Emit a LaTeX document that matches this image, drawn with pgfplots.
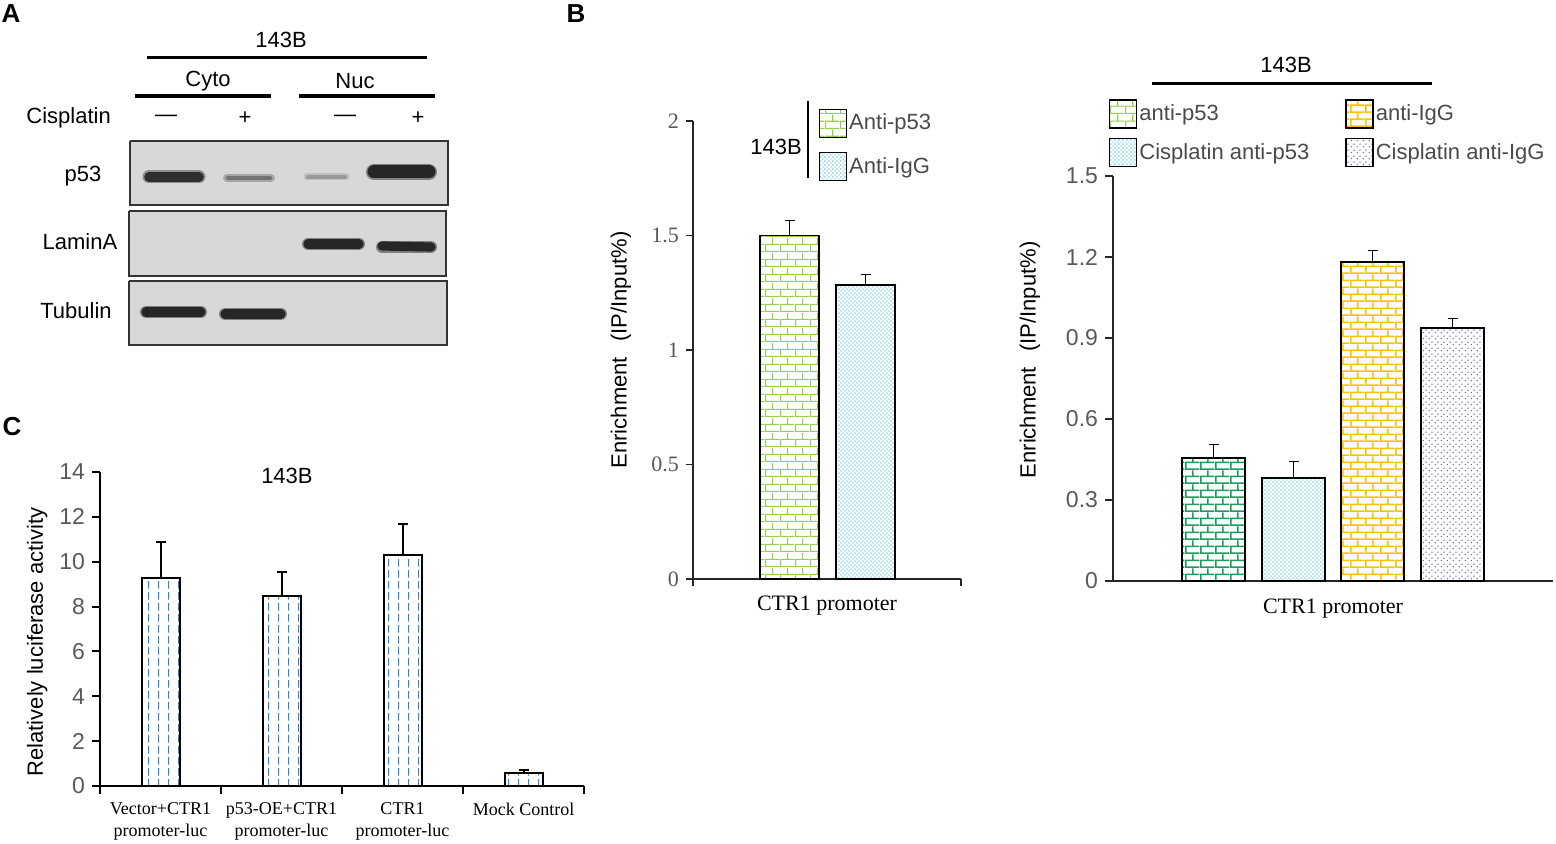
\documentclass[border=0pt]{standalone}
\usepackage{fontspec}
\setmainfont{Liberation Sans}
\newfontfamily\serif{Liberation Serif}
\usepackage{pgfplots}
\pgfplotsset{compat=1.18}
\usetikzlibrary{patterns}

\definecolor{tickgray}{HTML}{595959}
\definecolor{leggray}{HTML}{4A4A4A}
\definecolor{lgreen}{HTML}{92D050}
\definecolor{dgreen}{HTML}{16A05A}
\definecolor{cyanp}{HTML}{1FB0D8}
\definecolor{yel}{HTML}{FFC000}
\definecolor{purp}{HTML}{7050A8}
\definecolor{blued}{HTML}{2E86CF}
\definecolor{blot}{HTML}{D8D8D8}

\pgfdeclarepatternformonly{brk}{\pgfpointorigin}{\pgfpoint{7.5pt}{7.3pt}}{\pgfpoint{7.5pt}{7.3pt}}{%
 \pgfsetlinewidth{0.55pt}%
 \pgfpathmoveto{\pgfpoint{0pt}{0.3pt}}\pgfpathlineto{\pgfpoint{7.5pt}{0.3pt}}%
 \pgfpathmoveto{\pgfpoint{0pt}{3.95pt}}\pgfpathlineto{\pgfpoint{7.5pt}{3.95pt}}%
 \pgfpathmoveto{\pgfpoint{0.3pt}{0.3pt}}\pgfpathlineto{\pgfpoint{0.3pt}{3.95pt}}%
 \pgfpathmoveto{\pgfpoint{4.05pt}{3.95pt}}\pgfpathlineto{\pgfpoint{4.05pt}{7.3pt}}%
 \pgfusepath{stroke}}
\pgfdeclarepatternformonly{brkT}{\pgfpointorigin}{\pgfpoint{7.5pt}{6.9pt}}{\pgfpoint{7.5pt}{6.9pt}}{%
 \pgfsetlinewidth{0.8pt}%
 \pgfpathmoveto{\pgfpoint{0pt}{0.4pt}}\pgfpathlineto{\pgfpoint{7.5pt}{0.4pt}}%
 \pgfpathmoveto{\pgfpoint{0pt}{3.85pt}}\pgfpathlineto{\pgfpoint{7.5pt}{3.85pt}}%
 \pgfpathmoveto{\pgfpoint{0.4pt}{0.4pt}}\pgfpathlineto{\pgfpoint{0.4pt}{3.85pt}}%
 \pgfpathmoveto{\pgfpoint{4.15pt}{3.85pt}}\pgfpathlineto{\pgfpoint{4.15pt}{6.9pt}}%
 \pgfusepath{stroke}}
\pgfdeclarepatternformonly{dts}{\pgfpointorigin}{\pgfpoint{2.2pt}{2.2pt}}{\pgfpoint{2.2pt}{2.2pt}}{%
 \pgfpathcircle{\pgfpoint{0.55pt}{0.55pt}}{0.4pt}%
 \pgfpathcircle{\pgfpoint{1.65pt}{1.65pt}}{0.4pt}%
 \pgfusepath{fill}}
\pgfdeclarepatternformonly{dtsS}{\pgfpointorigin}{\pgfpoint{3pt}{3pt}}{\pgfpoint{3pt}{3pt}}{%
 \pgfpathcircle{\pgfpoint{0.75pt}{0.75pt}}{0.42pt}%
 \pgfpathcircle{\pgfpoint{2.25pt}{2.25pt}}{0.42pt}%
 \pgfusepath{fill}}
\pgfdeclarepatternformonly{vdash}{\pgfpointorigin}{\pgfpoint{4.8pt}{5.6pt}}{\pgfpoint{4.8pt}{5.6pt}}{%
 \pgfsetlinewidth{0.5pt}%
 \pgfpathmoveto{\pgfpoint{2.4pt}{0.8pt}}\pgfpathlineto{\pgfpoint{2.4pt}{4.8pt}}%
 \pgfusepath{stroke}}

\newcommand\fs{\fontsize{11}{13}\selectfont}

\begin{document}
\begin{tikzpicture}
\useasboundingbox (0,0) rectangle (778pt,422pt);

% ---------------- Panel A (western blot) ----------------
\begin{axis}[at={(0pt,242pt)},anchor=south west,scale only axis,
  width=230pt,height=180pt,xmin=0,xmax=460,ymin=0,ymax=360,y dir=reverse,
  hide axis,clip=false]
\addplot[fill=blot,draw=black!80,line width=0.8pt] coordinates {(130,141)(448,141)(448,205)(130,205)(130,141)};
\addplot[fill=blot,draw=black!80,line width=0.8pt] coordinates {(129,211)(446,211)(446,276)(129,276)(129,211)};
\addplot[fill=blot,draw=black!80,line width=0.8pt] coordinates {(129,281)(447,281)(447,345)(129,345)(129,281)};
% p53 bands
\addplot[line width=6.5pt,line cap=round,color=black!45] coordinates {(149,177)(199,177)};
\addplot[line width=4.8pt,line cap=round,color=black!82] coordinates {(149,177)(199,177)};
\addplot[line width=4pt,line cap=round,color=black!35] coordinates {(227,178)(271,178)};
\addplot[line width=2.2pt,line cap=round,color=black!55] coordinates {(228,178)(270,178)};
\addplot[line width=3.5pt,line cap=round,color=black!25] coordinates {(307,177)(346,177)};
\addplot[line width=2pt,line cap=round,color=black!40] coordinates {(308,177)(345,177)};
\addplot[line width=8pt,line cap=round,color=black!50] coordinates {(374,172)(429,172)};
\addplot[line width=6.5pt,line cap=round,color=black!85] coordinates {(374,172)(429,172)};
% LaminA bands
\addplot[line width=6pt,line cap=round,color=black!50] coordinates {(308,244)(359,244)};
\addplot[line width=4.6pt,line cap=round,color=black!85] coordinates {(308,244)(359,244)};
\addplot[line width=6pt,line cap=round,color=black!50] coordinates {(382,247)(431,247)};
\addplot[line width=4.6pt,line cap=round,color=black!85] coordinates {(382,246)(431,247)};
% Tubulin bands
\addplot[line width=6pt,line cap=round,color=black!50] coordinates {(146,312)(201,312)};
\addplot[line width=4.6pt,line cap=round,color=black!85] coordinates {(146,312)(201,312)};
\addplot[line width=6pt,line cap=round,color=black!50] coordinates {(225,314)(281,314)};
\addplot[line width=4.6pt,line cap=round,color=black!85] coordinates {(225,314)(281,314)};
% header lines
\addplot[line width=1.5pt] coordinates {(147,58)(427,58)};
\addplot[line width=2pt] coordinates {(135,96)(271,96)};
\addplot[line width=2pt] coordinates {(299,96)(435,96)};
\node[font=\bfseries\fontsize{13}{15}\selectfont] at (axis cs:11,14) {A};
\node[font=\fs] at (axis cs:281,40) {143B};
\node[font=\fs] at (axis cs:208,81) {Cyto};
\node[font=\fs] at (axis cs:355,81) {Nuc};
\node[font=\fs,anchor=west,inner sep=0pt] at (axis cs:26,118) {Cisplatin};
\node[font=\fs] at (axis cs:166,118) {—};
\node[font=\fs] at (axis cs:245,118) {+};
\node[font=\fs] at (axis cs:345,118) {—};
\node[font=\fs] at (axis cs:418,118) {+};
\node[font=\fs] at (axis cs:83,176) {p53};
\node[font=\fs] at (axis cs:80,242) {LaminA};
\node[font=\fs] at (axis cs:76,311) {Tubulin};
\end{axis}

% ---------------- Panel C ----------------
\node[font=\bfseries\fontsize{13}{15}\selectfont] at (6pt,208.5pt) {C};
\begin{axis}[at={(50pt,29pt)},anchor=south west,scale only axis,
  width=242pt,height=157pt,xmin=0.5,xmax=4.5,ymin=0,ymax=14,
  axis lines*=left, axis line style={line width=1pt},
  tick align=outside, major tick length=4pt,
  ytick={0,2,...,14}, tick style={line width=1pt,black},
  xtick={0.5,1.5,2.5,3.5,4.5}, xticklabels={},
  extra x ticks={1,2,3,4},
  extra x tick labels={{Vector+CTR1\\promoter-luc},{p53-OE+CTR1\\promoter-luc},{CTR1\\promoter-luc},{Mock Control}},
  extra x tick style={major tick length=0pt,
     xticklabel style={font=\serif\fontsize{9}{11}\selectfont,align=center,anchor=north,yshift=-5pt}},
  yticklabel style={font=\fontsize{11.5}{13}\selectfont,text=tickgray},
  /pgf/number format/assume math mode=true,
  ylabel={Relatively luciferase activity},
  ylabel style={font=\fs,at={(axis description cs:-0.130,0.459)},anchor=center},
  clip=false]
\addplot[ybar,bar width=19pt,bar shift=0pt,draw=black,line width=1pt,pattern=vdash,pattern color=blued,
  error bars/.cd,y dir=plus,y explicit,error bar style={line width=1pt,black},
  error mark options={rotate=90,line width=1pt,mark size=2.5pt,black}]
  coordinates {(1,9.26)+-(0,1.61) (2,8.46)+-(0,1.10) (3,10.28)+-(0,1.38) (4,0.60)+-(0,0.10)};
\node[font=\fs] at (axis cs:2.045,13.82) {143B};
\end{axis}

% ---------------- Panel B left ----------------
\node[font=\bfseries\fontsize{13}{15}\selectfont] at (288pt,415pt) {B};
\begin{axis}[at={(346.5pt,132.5pt)},anchor=south west,scale only axis,
  width=134pt,height=229pt,xmin=0,xmax=268,ymin=0,ymax=2,
  axis lines*=left, axis line style={line width=0.6pt,black!85},
  tick align=outside, major tick length=3.5pt, tick style={line width=0.6pt,black!85},
  ytick={0,0.5,1,1.5,2}, yticklabels={0,0.5,1,1.5,2},
  xtick={0,268}, xticklabels={},
  yticklabel style={font=\serif\fontsize{11}{13}\selectfont,text=tickgray},
  /pgf/number format/assume math mode=true,
  xlabel={CTR1 promoter},
  xlabel style={font=\serif\fontsize{11}{13}\selectfont,at={(axis description cs:0.5,-0.059)},anchor=center},
  ylabel={Enrichment\hspace{0.7em}(IP/Input\%)},
  ylabel style={font=\fs,at={(axis description cs:-0.269,0.5)},anchor=center},
  legend style={at={(axis description cs:0.468,1.028)},anchor=north west,draw=none,fill=none,
    font=\fs,text=leggray,row sep=7pt,inner sep=0pt,nodes={inner sep=1pt}},
  legend cell align=left,
  clip=false]
\addlegendimage{legend image code/.code={\draw[pattern=brk,pattern color=lgreen,draw=black,line width=0.7pt] (0pt,-7pt) rectangle (13.5pt,7pt);}}
\addlegendentry{Anti-p53}
\addlegendimage{legend image code/.code={\draw[pattern=dts,pattern color=cyanp,draw=black,line width=0.7pt] (0pt,-7pt) rectangle (13.5pt,7pt);}}
\addlegendentry{Anti-IgG}
\addplot[forget plot,ybar,bar width=29.5pt,bar shift=0pt,draw=black,line width=0.9pt,pattern=brk,pattern color=lgreen,
  error bars/.cd,y dir=plus,y explicit,error bar style={line width=0.6pt,black},
  error mark options={rotate=90,line width=0.6pt,mark size=2.5pt,black}]
  coordinates {(96.5,1.50)+-(0,0.065)};
\addplot[forget plot,ybar,bar width=29.5pt,bar shift=0pt,draw=black,line width=0.9pt,pattern=dts,pattern color=cyanp,
  error bars/.cd,y dir=plus,y explicit,error bar style={line width=0.6pt,black},
  error mark options={rotate=90,line width=0.6pt,mark size=2.5pt,black}]
  coordinates {(172.5,1.285)+-(0,0.045)};
\end{axis}
\draw[line width=1.25pt] (404pt,371.5pt) -- (404pt,333pt);
\node[font=\fs] at (388pt,348.5pt) {143B};

% ---------------- Panel B right ----------------
\begin{axis}[at={(556.5pt,131.5pt)},anchor=south west,scale only axis,
  width=220pt,height=202.5pt,xmin=0,xmax=440,ymin=0,ymax=1.5,
  axis lines*=left, axis line style={line width=0.6pt,black!85},
  tick align=outside, major tick length=4pt, tick style={line width=0.6pt,black!85},
  ytick={0,0.3,0.6,0.9,1.2,1.5}, yticklabels={0,0.3,0.6,0.9,1.2,1.5},
  xtick=\empty,
  yticklabel style={font=\fontsize{11.5}{13}\selectfont,text=tickgray},
  /pgf/number format/assume math mode=true,
  xlabel={CTR1 promoter},
  xlabel style={font=\serif\fontsize{11}{13}\selectfont,at={(axis description cs:0.5,-0.067)},anchor=center},
  ylabel={Enrichment\hspace{0.7em}(IP/Input\%)},
  ylabel style={font=\fs,at={(axis description cs:-0.189,0.546)},anchor=center},
  legend columns=2,
  legend style={at={(axis description cs:-0.01,1.19)},anchor=north west,draw=none,fill=none,
    font=\fs,text=leggray,row sep=4.5pt,inner sep=0pt,nodes={inner sep=1pt},
    /tikz/every even column/.append style={column sep=17pt}},
  legend cell align=left,
  clip=false]
\addlegendimage{legend image code/.code={\draw[pattern=brk,pattern color=lgreen,draw=black,line width=0.7pt] (0pt,-7pt) rectangle (13.5pt,7pt);}}
\addlegendentry{anti-p53}
\addlegendimage{legend image code/.code={\draw[pattern=brkT,pattern color=yel,draw=black,line width=0.7pt] (0pt,-7pt) rectangle (13.5pt,7pt);}}
\addlegendentry{anti-IgG}
\addlegendimage{legend image code/.code={\draw[pattern=dts,pattern color=cyanp,draw=black,line width=0.7pt] (0pt,-7pt) rectangle (13.5pt,7pt);}}
\addlegendentry{Cisplatin anti-p53}
\addlegendimage{legend image code/.code={\draw[pattern=dtsS,pattern color=purp,draw=black,line width=0.7pt] (0pt,-7pt) rectangle (13.5pt,7pt);}}
\addlegendentry{Cisplatin anti-IgG}
\addplot[forget plot,ybar,bar width=31.5pt,bar shift=0pt,draw=black,line width=0.9pt,pattern=brkT,pattern color=dgreen,
  error bars/.cd,y dir=plus,y explicit,error bar style={line width=0.6pt,black},
  error mark options={rotate=90,line width=0.6pt,mark size=2.5pt,black}]
  coordinates {(100.5,0.455)+-(0,0.050)};
\addplot[forget plot,ybar,bar width=31.5pt,bar shift=0pt,draw=black,line width=0.9pt,pattern=dts,pattern color=cyanp,
  error bars/.cd,y dir=plus,y explicit,error bar style={line width=0.6pt,black},
  error mark options={rotate=90,line width=0.6pt,mark size=2.5pt,black}]
  coordinates {(180.5,0.381)+-(0,0.063)};
\addplot[forget plot,ybar,bar width=31.5pt,bar shift=0pt,draw=black,line width=0.9pt,pattern=brkT,pattern color=yel,
  error bars/.cd,y dir=plus,y explicit,error bar style={line width=0.6pt,black},
  error mark options={rotate=90,line width=0.6pt,mark size=2.5pt,black}]
  coordinates {(259.5,1.181)+-(0,0.043)};
\addplot[forget plot,ybar,bar width=31.5pt,bar shift=0pt,draw=black,line width=0.9pt,pattern=dtsS,pattern color=purp,
  error bars/.cd,y dir=plus,y explicit,error bar style={line width=0.6pt,black},
  error mark options={rotate=90,line width=0.6pt,mark size=2.5pt,black}]
  coordinates {(339.5,0.937)+-(0,0.035)};
\end{axis}
\node[font=\fs] at (643pt,389.5pt) {143B};
\draw[line width=1.5pt] (576pt,380pt) -- (716pt,380pt);
\end{tikzpicture}
\end{document}
